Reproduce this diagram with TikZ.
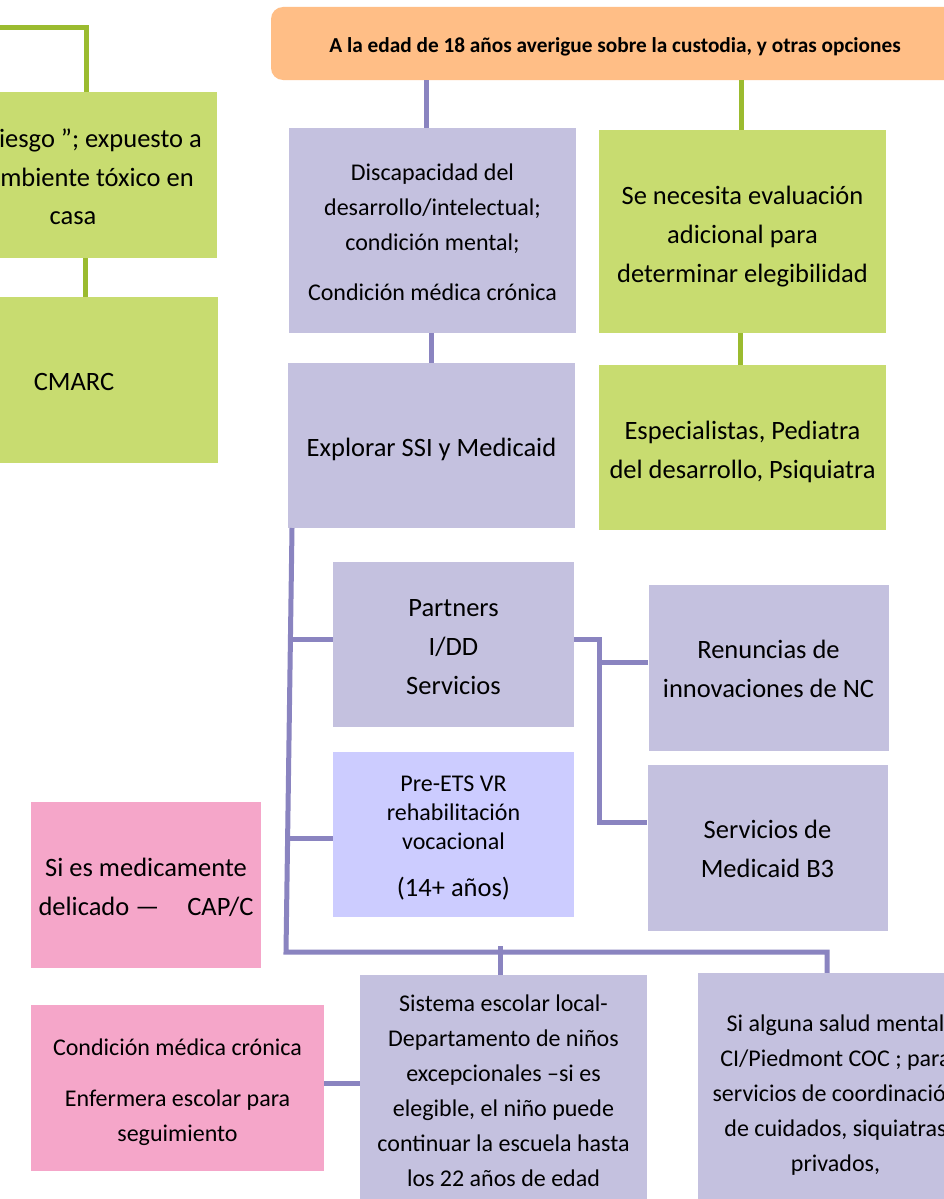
\documentclass[tikz,border=0pt]{standalone}
\usepackage{fontspec}
\setmainfont{Carlito}
\definecolor{lav}{HTML}{C4C1DF}
\definecolor{lavlight}{HTML}{CCCCFF}
\definecolor{grn}{HTML}{C8DC70}
\definecolor{grnline}{HTML}{9BBB2F}
\definecolor{plinecol}{HTML}{8A84C0}
\definecolor{orng}{HTML}{FFBE86}
\definecolor{pnk}{HTML}{F5A6C9}
\newcommand\lift[1]{\rule{0pt}{#1}}
\tikzset{
  cbox/.style={rectangle, inner sep=0pt, align=center, text=black},
  lavbox/.style={cbox, fill=lav},
  grnbox/.style={cbox, fill=grn},
  pnkbox/.style={cbox, fill=pnk},
  smtxt/.style={font=\fontsize{24}{35}\selectfont},
  lgtxt/.style={font=\fontsize{26.5}{39}\selectfont},
  pcon/.style={draw=plinecol, line width=5pt},
  gcon/.style={draw=grnline, line width=5pt},
}
\begin{document}
\begin{tikzpicture}[x=1pt,y=-1pt]
\useasboundingbox (0,0) rectangle (944,1199);
\clip (0,0) rectangle (944,1199);
\fill[white] (0,0) rectangle (944,1199);

% ---------- nodes ----------
\node[cbox, fill=orng, rounded corners=12pt, minimum width=688pt, minimum height=73pt,
      font=\bfseries\fontsize{21.3}{25}\selectfont] (top) at (615,43.5)
      {\lift{21pt}A la edad de 18 años averigue sobre la custodia, y otras opciones};

\node[grnbox, minimum width=288pt, minimum height=166pt] (riesgo) at (73,175) {};
\node[lgtxt, anchor=base east, inner sep=0pt] (r1) at (202,147) {iesgo ”; expuesto a};
\node[lgtxt, anchor=base east, inner sep=0pt] (r2) at (194,186) {mbiente tóxico en};
\node[lgtxt, anchor=base, inner sep=0pt] (r3) at (73,224) {casa};
\node[grnbox, lgtxt, minimum width=288pt, minimum height=166pt] (cmarc) at (74,380) {\lift{22pt}CMARC};

\node[lavbox, smtxt, minimum width=287pt, minimum height=205pt] (disc) at (432.5,230.5)
  {\lift{21pt}Discapacidad del\\desarrollo/intelectual;\\condición mental;\\[15pt]Condición médica crónica};
\node[lavbox, lgtxt, minimum width=287pt, minimum height=165pt] (expl) at (431.5,445.5)
  {\lift{26pt}Explorar SSI y Medicaid};
\node[grnbox, lgtxt, minimum width=287pt, minimum height=203pt] (senec) at (742.5,231.5)
  {\lift{29pt}Se necesita evaluación\\adicional para\\determinar elegibilidad};
\node[grnbox, lgtxt, minimum width=287pt, minimum height=165pt] (espec) at (742.5,447.5)
  {\lift{28pt}Especialistas, Pediatra\\del desarrollo, Psiquiatra};

\node[lavbox, lgtxt, minimum width=241pt, minimum height=165pt] (partners) at (453.5,644.5)
  {\lift{22pt}Partners\\I/DD\\Servicios};
\node[cbox, fill=lavlight, font=\fontsize{24}{29}\selectfont, minimum width=241pt, minimum height=165pt] (pre) at (453.5,834.5)
  {\lift{22pt}Pre-ETS VR\\rehabilitación\\vocacional\\[18pt]{\fontsize{26.5}{29}\selectfont (14+ años)}};
\node[lavbox, lgtxt, minimum width=240pt, minimum height=166pt] (ren) at (768.5,668)
  {\lift{20pt}Renuncias de\\innovaciones de NC};
\node[lavbox, lgtxt, minimum width=240pt, minimum height=166pt] (medi) at (767.5,848)
  {\lift{20pt}Servicios de\\Medicaid B3};

\node[pnkbox, lgtxt, minimum width=230pt, minimum height=166pt] (pink1) at (146,885)
  {\lift{24pt}Si es medicamente\\delicado —\hspace*{28pt}CAP/C};
\node[pnkbox, smtxt, minimum width=293pt, minimum height=166pt] (pink2) at (177.5,1088)
  {\lift{26pt}Condición médica crónica\\[16pt]Enfermera escolar para\\seguimiento};

\node[lavbox, smtxt, minimum width=287pt, minimum height=231pt] (sist) at (503.5,1090.5)
  {Sistema escolar local-\\Departamento de niños\\excepcionales –si es\\elegible, el niño puede\\continuar la escuela hasta\\los 22 años de edad};
\node[lavbox, smtxt, minimum width=275pt, minimum height=240pt] (si) at (835.5,1093)
  {\lift{21pt}Si alguna salud mental\\CI/Piedmont COC ; para\\servicios de coordinación\\de cuidados, siquiatras\\privados,};

% ---------- helper coordinates ----------
\coordinate (xa) at (426,0);
\coordinate (xb) at (431,0);
\coordinate (xc) at (741,0);
\coordinate (xd) at (740,0);
\coordinate (xe) at (86,0);
\coordinate (xf) at (85,0);
\coordinate (lt) at (0,28);
\coordinate (trunkTop) at (292,528);
\coordinate (trunkBot) at (286,952);
\coordinate (bRight) at (827,952);
\coordinate (tick) at (500,946);
\coordinate (jP) at (291,639);
\coordinate (jV) at (288,838);
\coordinate (k1) at (599,639);
\coordinate (k2) at (599,822);
\coordinate (k3) at (599,662);
\coordinate (yp) at (0,1083);

% ---------- connectors ----------
\draw[pcon] (xa |- top.south) -- (xa |- disc.north);
\draw[pcon] (xb |- disc.south) -- (xb |- expl.north);
\draw[gcon] (xc |- top.south) -- (xc |- senec.north);
\draw[gcon] (xd |- senec.south) -- (xd |- espec.north);
\draw[gcon] (lt) -- (lt -| xe) -- (xe |- riesgo.north);
\draw[gcon] (xf |- riesgo.south) -- (xf |- cmarc.north);
\draw[pcon] (trunkTop) -- (trunkBot) -- (bRight) -- (bRight |- si.north);
\draw[pcon] (tick) -- (tick |- sist.north);
\draw[pcon] (jP) -- (jP -| partners.west);
\draw[pcon] (jV) -- (jV -| pre.west);
\draw[pcon] (k1 -| partners.east) -- (k1) -- (k2) -- (k2 -| medi.west);
\draw[pcon] (k3) -- (k3 -| ren.west);
\draw[pcon] (yp -| pink2.east) -- (yp -| sist.west);
\end{tikzpicture}
\end{document}
